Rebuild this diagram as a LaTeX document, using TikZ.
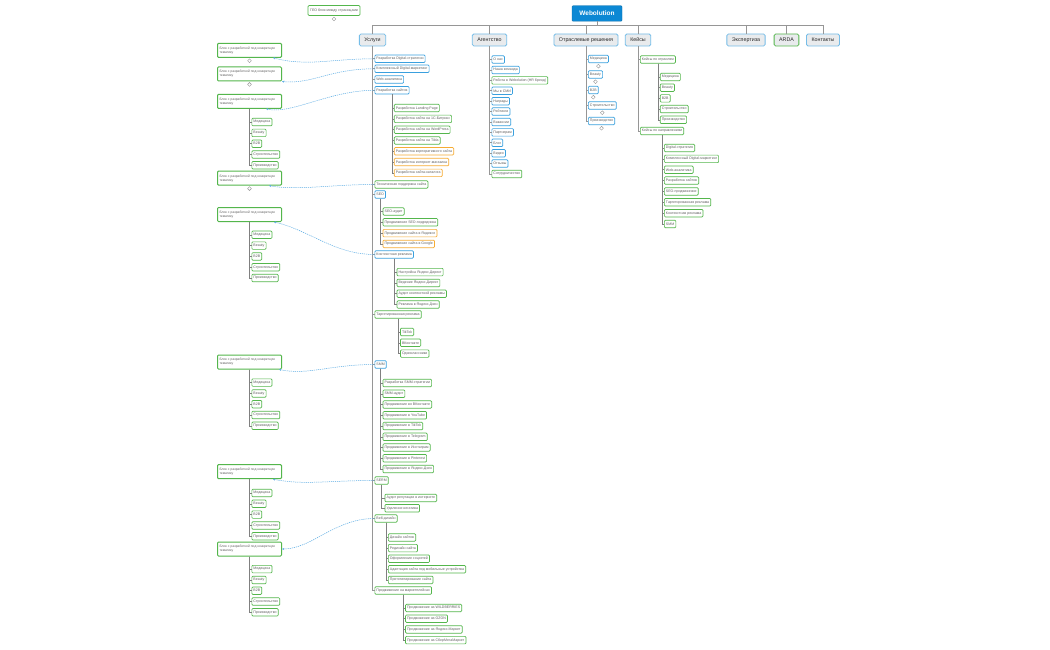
\documentclass[tikz,border=0pt]{standalone}
\usepackage{fontspec}
\setmainfont{Liberation Sans}
\usetikzlibrary{arrows.meta,positioning}

\definecolor{myblue}{RGB}{58,160,222}
\definecolor{mygreen}{RGB}{84,182,76}
\definecolor{myorange}{RGB}{246,172,52}
\definecolor{myroot}{RGB}{12,136,212}
\definecolor{mytop}{RGB}{233,235,237}
\definecolor{myline}{RGB}{150,150,150}
\definecolor{mydashc}{RGB}{90,172,228}
\definecolor{mytext}{RGB}{95,95,95}

\begin{document}
\begin{tikzpicture}[
    x=1pt, y=-1pt,
    rootbox/.style={
    draw=myroot!80!black,
    fill=myroot,
    rounded corners=1pt,
    minimum width=50pt,
    minimum height=15.5pt,
    inner sep=0pt,
    text=white,
    font=\fontsize{6.5}{7}\selectfont\bfseries},
    topbox/.style={
    draw=myblue!70,
    fill=mytop,
    rounded corners=1.5pt,
    line width=0.8pt,
    minimum height=12pt,
    inner xsep=5pt,
    inner ysep=0pt,
    text=black!85,
    font=\fontsize{5.3}{6}\selectfont},
    leaf/.style={
    draw=mygreen,
    fill=white,
    rounded corners=1pt,
    line width=0.7pt,
    minimum height=7.5pt,
    inner xsep=1.6pt,
    inner ysep=0pt,
    anchor=west,
    text=mytext,
    font=\fontsize{3.55}{3.8}\selectfont},
    blockbox/.style={leaf, draw=mygreen, line width=1pt, text width=60pt, minimum height=14pt,
    inner xsep=2pt, align=left, font=\fontsize{3.3}{3.9}\selectfont},
    knob/.style={circle, draw=myline, fill=white, line width=0.4pt, minimum size=3.8pt, inner sep=0pt},
    mytree/.style={draw=myline, line width=0.9pt},
    mysub/.style={draw=myline!85!black, line width=0.5pt},
    mydash/.style={draw=mydashc, line width=0.5pt, dash pattern=on 1.2pt off 0.9pt,
    {Stealth[length=2.2pt,width=2pt]}-}
    ]
    \fill[white] (0,0) rectangle (1050,650);

    % root and first level
    \node[rootbox] (root) at (597,13.5) {Webolution};
    \node[leaf, anchor=center, minimum height=10pt, inner xsep=2pt] (geo) at (334,10.5) {ГЕО блок между страницами};
    \node[knob, below=1pt of geo] (geok) {};

    \node[topbox] (usl) at (372.5,40) {Услуги};
    \node[topbox] (ag) at (489.5,40) {Агентство};
    \node[topbox] (otr) at (586,40) {Отраслевые решения};
    \node[topbox] (ks) at (638,40) {Кейсы};
    \node[topbox] (exp) at (746,40) {Экспертиза};
    \node[topbox, draw=mygreen] (arda) at (786.5,40) {ARDA};
    \node[topbox] (kon) at (823,40) {Контакты};

    \foreach \n in {usl,ag,otr,ks,exp,arda,kon}
        \draw[mytree] (root.south) -- ++(0,4.5) -| (\n.north);

    % Услуги
    \node[leaf, draw=myblue, xshift=2pt] (udig) at (usl.south |- 0,58.8) {Разработка Digital-стратегии};
    \node[leaf, draw=myblue, xshift=2pt] (ukom) at (usl.south |- 0,68.8) {Комплексный Digital-маркетинг};
    \node[leaf, draw=myblue, xshift=2pt] (uweb) at (usl.south |- 0,79.5) {Web-аналитика};
    \node[leaf, draw=myblue, xshift=2pt] (urs) at (usl.south |- 0,90.3) {Разработка сайтов};
    \node[leaf, xshift=2pt] (uteh) at (usl.south |- 0,184.5) {Техническая поддержка сайта};
    \node[leaf, draw=myblue, xshift=2pt] (useo) at (usl.south |- 0,194.5) {SEO};
    \node[leaf, draw=myblue, xshift=2pt] (ukr) at (usl.south |- 0,254.5) {Контекстная реклама};
    \node[leaf, xshift=2pt] (utr) at (usl.south |- 0,314.5) {Таргетированная реклама};
    \node[leaf, draw=myblue, xshift=2pt] (usmm) at (usl.south |- 0,364.5) {SMM};
    \node[leaf, xshift=2pt] (userm) at (usl.south |- 0,480.5) {SERM};
    \node[leaf, xshift=2pt] (uwd) at (usl.south |- 0,518.5) {Веб-дизайн};
    \node[leaf, xshift=2pt] (ump) at (usl.south |- 0,590.5) {Продвижение на маркетплейсах};

    \foreach \n in {udig,ukom,uweb,urs,uteh,useo,ukr,utr,usmm,userm,uwd,ump}
        \draw[mytree] (usl.south) |- (\n.west);

    \foreach \col/\txt [count=\i] in {mygreen/Разработка Landing Page, mygreen/Разработка сайта на 1С-Битрикс,
        mygreen/Разработка сайта на WordPress, mygreen/Разработка сайта на Tilda,
        myorange/Разработка корпоративного сайта, myorange/Разработка интернет-магазина,
        myorange/Разработка сайта-каталога}{
        \pgfmathsetmacro\yy{97.3+10.8*\i}
        \node[leaf, draw=\col, xshift=2pt] (urs\i) at (urs.south |- 0,\yy) {\txt};
        \draw[mysub] (urs.south) |- (urs\i.west);
    }

    \foreach \col/\txt [count=\i] in {mygreen/SEO-аудит, mygreen/Продвижение SEO-подрядчика,
        myorange/Продвижение сайта в Яндексе, myorange/Продвижение сайта в Google}{
        \pgfmathsetmacro\yy{200.7+10.8*\i}
        \node[leaf, draw=\col, xshift=2.5pt] (useo\i) at (useo.south |- 0,\yy) {\txt};
        \draw[mysub] (useo.south) |- (useo\i.west);
    }

    \foreach \txt [count=\i] in {Настройка Яндекс.Директ, Ведение Яндекс.Директ,
        Аудит контекстной рекламы, Реклама в Яндекс.Дзен}{
        \pgfmathsetmacro\yy{261.3+10.8*\i}
        \node[leaf, xshift=2.5pt] (ukr\i) at (ukr.south |- 0,\yy) {\txt};
        \draw[mysub] (ukr.south) |- (ukr\i.west);
    }

    \foreach \txt [count=\i] in {TikTok, ВКонтакте, Одноклассники}{
        \pgfmathsetmacro\yy{321.2+10.8*\i}
        \node[leaf, xshift=2pt] (utr\i) at (utr.south |- 0,\yy) {\txt};
        \draw[mysub] (utr.south) |- (utr\i.west);
    }

    \foreach \txt [count=\i] in {Разработка SMM-стратегии, SMM-аудит, Продвижение во ВКонтакте,
        Продвижение в YouTube, Продвижение в TikTok, Продвижение в Telegram,
        Продвижение в Инстаграм, Продвижение в Pinterest, Продвижение в Яндекс.Дзен}{
        \pgfmathsetmacro\yy{372.3+10.75*\i}
        \node[leaf, xshift=2pt] (usmm\i) at (usmm.south |- 0,\yy) {\txt};
        \draw[mysub] (usmm.south) |- (usmm\i.west);
    }

    \foreach \txt [count=\i] in {Аудит репутации в интернете, Удаление негатива}{
        \pgfmathsetmacro\yy{487.7+10.3*\i}
        \node[leaf, xshift=3pt] (userm\i) at (userm.south |- 0,\yy) {\txt};
        \draw[mysub] (userm.south) |- (userm\i.west);
    }

    \foreach \txt [count=\i] in {Дизайн сайтов, Редизайн сайта, Оформление соцсетей,
        Адаптация сайта под мобильные устройства, Прототипирование сайта}{
        \pgfmathsetmacro\yy{526.9+10.6*\i}
        \node[leaf, xshift=2pt] (uwd\i) at (uwd.south |- 0,\yy) {\txt};
        \draw[mysub] (uwd.south) |- (uwd\i.west);
    }

    \foreach \txt [count=\i] in {Продвижение на WILDBERRIES, Продвижение на OZON,
        Продвижение на Яндекс.Маркет, Продвижение на СберМегаМаркет}{
        \pgfmathsetmacro\yy{597.3+10.7*\i}
        \node[leaf, xshift=2pt] (ump\i) at (ump.south |- 0,\yy) {\txt};
        \draw[mysub] (ump.south) |- (ump\i.west);
    }

    % blocks on the left
    \foreach \n/\yy in {lb1/50.3, lb2/74, lb3/101.3, lb4/178.2, lb5/214.5, lb6/362, lb7/471.7, lb8/549}
        \node[blockbox] (\n) at (217,\yy) {Блок с разработкой под конкретную\\тематику};
    \foreach \n in {lb1,lb2,lb4}
        \node[knob, below=0.8pt of \n] (\n-k) {};

    \foreach \blk/\y in {lb3/111.3, lb5/224, lb6/371.8, lb7/482.2, lb8/558.3}
        \foreach \txt [count=\i] in {Медицина, Beauty, B2B, Строительство, Производство}{
            \pgfmathsetmacro\yy{\y+10.8*\i}
            \node[leaf, xshift=2pt] (\blk-\i) at (\blk.south |- 0,\yy) {\txt};
            \draw[mysub] (\blk.south) |- (\blk-\i.west);
        }

    \draw[mydash] ([xshift=-9pt]lb1.south east) .. controls +(35,9) and +(-45,0) .. (udig.west);
    \draw[mydash] (lb2.south east) .. controls +(30,3) and +(-45,0) .. (ukom.west);
    \draw[mydash] ([xshift=-16pt]lb3.south east) .. controls +(25,6) and +(-45,0) .. (urs.west);
    \draw[mydash] ([xshift=-13pt]lb4.south east) .. controls +(30,5) and +(-45,0) .. (uteh.west);
    \draw[mydash] ([xshift=-8pt]lb5.south east) .. controls +(35,8) and +(-40,0) .. (ukr.west);
    \draw[mydash] ([xshift=-3pt]lb6.south east) .. controls +(30,6) and +(-45,0) .. (usmm.west);
    \draw[mydash] ([xshift=-9pt]lb7.south east) .. controls +(30,6) and +(-45,0) .. (userm.west);
    \draw[mydash] (lb8.east) .. controls +(30,0) and +(-40,0) .. (uwd.west);

    % Агентство
    \foreach \col/\txt [count=\i] in {myblue/О нас, myblue/Наша команда, mygreen/Работа в Webolution (HR бренд),
        myblue/Мы в СМИ, myblue/Награды, myblue/Рейтинги, myblue/Вакансии, myblue/Партнерам,
        myblue/Блог, myblue/Видео, myblue/Отзывы, mygreen/Сотрудничество}{
        \pgfmathsetmacro\yy{49.2+10.4*\i}
        \node[leaf, draw=\col, xshift=2pt] (ag\i) at (ag.south |- 0,\yy) {\txt};
        \draw[mytree] (ag.south) |- (ag\i.west);
    }

    % Отраслевые решения
    \foreach \txt [count=\i] in {Медицина, Beauty, B2B, Строительство, Производство}{
        \pgfmathsetmacro\yy{43.5+15.5*\i}
        \node[leaf, draw=myblue, xshift=2pt] (otr\i) at (otr.south |- 0,\yy) {\txt};
        \node[knob, below=1pt of otr\i] (otr\i-k) {};
        \draw[mytree] (otr.south) |- (otr\i.west);
    }

    % Кейсы
    \node[leaf, xshift=2pt] (kotr) at (ks.south |- 0,59.5) {Кейсы по отраслям};
    \node[leaf, xshift=2pt] (knap) at (ks.south |- 0,131) {Кейсы по направлениям};
    \draw[mytree] (ks.south) |- (kotr.west);
    \draw[mytree] (ks.south) |- (knap.west);

    \foreach \txt [count=\i] in {Медицина, Beauty, B2B, Строительство, Производство}{
        \pgfmathsetmacro\yy{66.3+10.7*\i}
        \node[leaf, xshift=2pt] (kotr\i) at (kotr.south |- 0,\yy) {\txt};
        \draw[mysub] (kotr.south) |- (kotr\i.west);
    }

    \foreach \txt [count=\i] in {Digital-стратегия, Комплексный Digital-маркетинг, Web-аналитика,
        Разработка сайтов, SEO-продвижение, Таргетированная реклама, Контекстная реклама, SMM}{
        \pgfmathsetmacro\yy{137.2+10.85*\i}
        \node[leaf, xshift=2pt] (knap\i) at (knap.south |- 0,\yy) {\txt};
        \draw[mysub] (knap.south) |- (knap\i.west);
    }
\end{tikzpicture}
\end{document}
